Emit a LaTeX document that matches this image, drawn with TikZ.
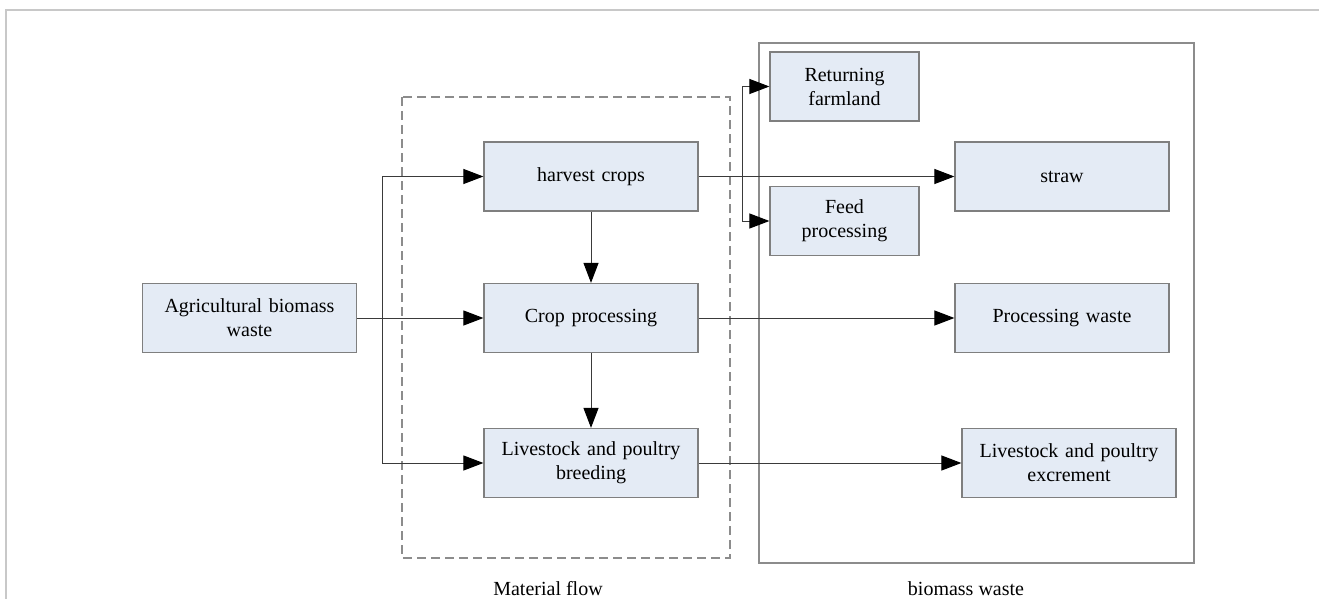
\documentclass[tikz,border=0pt]{standalone}
\usepackage{fontspec}
\setmainfont{Liberation Serif}
\usetikzlibrary{arrows.meta}
\definecolor{boxfill}{HTML}{E4EBF5}
\definecolor{boxline}{HTML}{7F7F7F}
\definecolor{frameline}{HTML}{C8C8C8}
\definecolor{groupline}{HTML}{8C8C8C}
\definecolor{flowline}{HTML}{3A3A3A}
\tikzset{
  stage/.style={draw=boxline, line width=1.2pt, fill=boxfill, minimum width=214pt,
    minimum height=69pt, text width=200pt, align=center, inner sep=0pt,
    font=\fontsize{20}{24}\selectfont},
  flow/.style={draw=flowline, line width=1pt},
  flowarrow/.style={flow, -{Triangle[length=20pt, width=15pt, color=black, fill=black]}},
  caption/.style={font=\fontsize{20}{24}\selectfont, inner sep=0pt}
}
\begin{document}
\begin{tikzpicture}[x=1pt, y=-1pt]
\useasboundingbox (0,0) rectangle (1319,599);
% page frame
\draw[frameline, line width=2pt] (6,599) -- (6,10) -- (1319,10);

% groups
\draw[groupline, line width=1.2pt, dash pattern=on 9pt off 5pt] (402,97) rectangle (730,558);
\draw[groupline, line width=1.2pt] (759,43) rectangle (1194,563);
\node[caption] (mflow) at (548,589) {Material flow};
\node[caption] (bwaste) at (966,589) {biomass waste};

% stages
\node[stage] (agri) at (249.5,318) {Agricultural biomass\\waste};
\node[stage] (harvest) at (591,176.5) {harvest crops};
\node[stage] (crop) at (591,318) {Crop processing};
\node[stage] (breed) at (591,463) {Livestock and poultry\\breeding};
\node[stage, minimum width=149pt, text width=140pt] (return) at (844.5,86.5) {Returning\\farmland};
\node[stage, minimum width=149pt, text width=140pt] (feed) at (844.5,221) {Feed\\processing};
\node[stage] (straw) at (1062,176.5) {straw};
\node[stage] (pwaste) at (1062,318) {Processing waste};
\node[stage] (excr) at (1069,463) {Livestock and poultry\\excrement};

% branch points
\coordinate (j1) at (382,318);
\coordinate (j2) at (742,176.5);

% connectors
\draw[flowarrow] (agri.east) -- (crop.west);
\draw[flowarrow] (j1) |- (harvest.west);
\draw[flowarrow] (j1) |- (breed.west);
\draw[flowarrow] (harvest.south) -- (crop.north);
\draw[flowarrow] (crop.south) -- (breed.north);
\draw[flowarrow] (harvest.east) -- (straw.west);
\draw[flowarrow] (j2) |- (return.west);
\draw[flowarrow] (j2) |- (feed.west);
\draw[flowarrow] (crop.east) -- (pwaste.west);
\draw[flowarrow] (breed.east) -- (excr.west);
\end{tikzpicture}
\end{document}
